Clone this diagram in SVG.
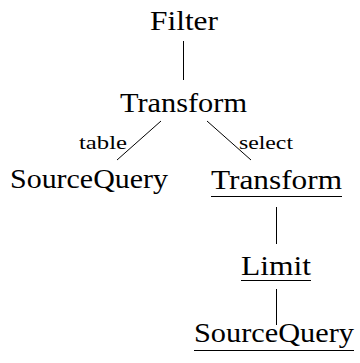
<svg xmlns="http://www.w3.org/2000/svg" width="360" height="363" viewBox="0 0 360 363">
<style>
text{font-family:'Liberation Serif','DejaVu Serif','Times New Roman',serif;fill:#000;}
.n{font-size:28px;}
.l{font-size:19px;}
.e line{stroke:#000;stroke-width:1;}
.u{stroke:#000;stroke-width:1;}
</style>
<rect width="360" height="363" fill="#fff"/>
<g id="connectors" class="e">
<line x1="183.5" y1="41" x2="183.5" y2="80"/>
<line x1="161" y1="121" x2="117" y2="160"/>
<line x1="207" y1="121" x2="251" y2="160"/>
<line x1="276.5" y1="207" x2="276.5" y2="244"/>
<line x1="276.5" y1="289" x2="276.5" y2="325"/>
</g>
<g id="label-table"><text class="l" font-family="Liberation Serif, DejaVu Serif, serif" x="79" y="149" textLength="48" lengthAdjust="spacingAndGlyphs">table</text></g>
<g id="label-select"><text class="l" font-family="Liberation Serif, DejaVu Serif, serif" x="239" y="149" textLength="54" lengthAdjust="spacingAndGlyphs">select</text></g>
<g id="node-filter"><text class="n" font-family="Liberation Serif, DejaVu Serif, serif" x="150" y="30" textLength="68" lengthAdjust="spacingAndGlyphs">Filter</text></g>
<g id="node-transform"><text class="n" font-family="Liberation Serif, DejaVu Serif, serif" x="120" y="112" textLength="127" lengthAdjust="spacingAndGlyphs">Transform</text></g>
<g id="node-sourcequery1"><text class="n" font-family="Liberation Serif, DejaVu Serif, serif" x="10" y="188" textLength="158" lengthAdjust="spacingAndGlyphs">SourceQuery</text></g>
<g id="node-transform2"><text class="n" font-family="Liberation Serif, DejaVu Serif, serif" x="211" y="189" textLength="131" lengthAdjust="spacingAndGlyphs">Transform</text><line class="u" x1="211" y1="196.5" x2="342" y2="196.5"/></g>
<g id="node-limit"><text class="n" font-family="Liberation Serif, DejaVu Serif, serif" x="241" y="275" textLength="70" lengthAdjust="spacingAndGlyphs">Limit</text><line class="u" x1="241" y1="280.5" x2="311" y2="280.5"/></g>
<g id="node-sourcequery2"><text class="n" font-family="Liberation Serif, DejaVu Serif, serif" x="194" y="342" textLength="160" lengthAdjust="spacingAndGlyphs">SourceQuery</text><line class="u" x1="194" y1="350.5" x2="354" y2="350.5"/></g>
</svg>
